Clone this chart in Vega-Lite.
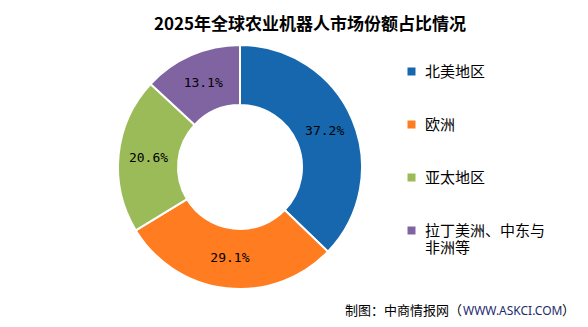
{
  "$schema": "https://vega.github.io/schema/vega-lite/v6.json",
  "width": 580,
  "height": 326,
  "padding": 0,
  "autosize": {"type": "none"},
  "background": "white",
  "config": {"view": {"stroke": "#8a8a8a", "strokeWidth": 2}},
  "datasets": {
    "share": [
      {"region": "北美地区", "share": 37.2, "label": "37.2%", "idx": 1},
      {"region": "欧洲", "share": 29.1, "label": "29.1%", "idx": 2},
      {"region": "亚太地区", "share": 20.6, "label": "20.6%", "idx": 3},
      {"region": "拉丁美洲、中东与非洲等", "share": 13.1, "label": "13.1%", "idx": 4}
    ],
    "titles": [{"t": "2025年全球农业机器人市场份额占比情况"}],
    "foot1": [{"t": "制图：中商情报网（"}],
    "foot2": [{"t": "WWW.ASKCI.COM"}],
    "foot3": [{"t": "）"}]
  },
  "layer": [
    {
      "data": {"name": "share"},
      "mark": {"type": "arc", "innerRadius": 62, "outerRadius": 122, "x": 240, "y": 167, "stroke": "white", "strokeWidth": 2},
      "encoding": {
        "theta": {"field": "share", "type": "quantitative", "stack": true},
        "order": {"field": "idx", "type": "quantitative"},
        "color": {
          "field": "region",
          "type": "nominal",
          "scale": {
            "domain": ["北美地区", "欧洲", "亚太地区", "拉丁美洲、中东与非洲等"],
            "range": ["#1767AE", "#FF7C20", "#9BBB59", "#8064A2"]
          },
          "legend": {
            "title": null,
            "orient": "none",
            "legendX": 404,
            "legendY": 64,
            "symbolType": "square",
            "symbolSize": 64,
            "symbolStrokeWidth": 0,
            "labelFont": "Noto Sans CJK SC",
            "labelFontSize": 15,
            "labelColor": "#000000",
            "labelOffset": 6,
            "labelLimit": 300,
            "rowPadding": 37,
            "labelExpr": "datum.label == '拉丁美洲、中东与非洲等' ? ['拉丁美洲、中东与', '非洲等'] : datum.label"
          }
        }
      }
    },
    {
      "data": {"name": "share"},
      "mark": {"type": "text", "radius": 92, "x": 240, "y": 167, "font": "DejaVu Sans Mono", "fontSize": 13, "color": "#000000"},
      "encoding": {
        "theta": {"field": "share", "type": "quantitative", "stack": true},
        "order": {"field": "idx", "type": "quantitative"},
        "text": {"field": "label", "type": "nominal"}
      }
    },
    {
      "data": {"name": "titles"},
      "mark": {"type": "text", "x": 310, "y": 25, "align": "center", "baseline": "middle", "font": "Noto Sans CJK SC", "fontWeight": "bold", "fontSize": 17, "color": "#000000"},
      "encoding": {"text": {"field": "t", "type": "nominal"}}
    },
    {
      "data": {"name": "foot1"},
      "mark": {"type": "text", "x": 345, "y": 311, "align": "left", "baseline": "middle", "font": "Noto Sans CJK SC", "fontSize": 13, "color": "#000000"},
      "encoding": {"text": {"field": "t", "type": "nominal"}}
    },
    {
      "data": {"name": "foot2"},
      "mark": {"type": "text", "x": 463, "y": 311, "align": "left", "baseline": "middle", "font": "Noto Sans", "fontSize": 12, "color": "#1C2B6E"},
      "encoding": {"text": {"field": "t", "type": "nominal"}}
    },
    {
      "data": {"name": "foot3"},
      "mark": {"type": "text", "x": 562, "y": 311, "align": "left", "baseline": "middle", "font": "Noto Sans CJK SC", "fontSize": 13, "color": "#000000"},
      "encoding": {"text": {"field": "t", "type": "nominal"}}
    }
  ]
}
